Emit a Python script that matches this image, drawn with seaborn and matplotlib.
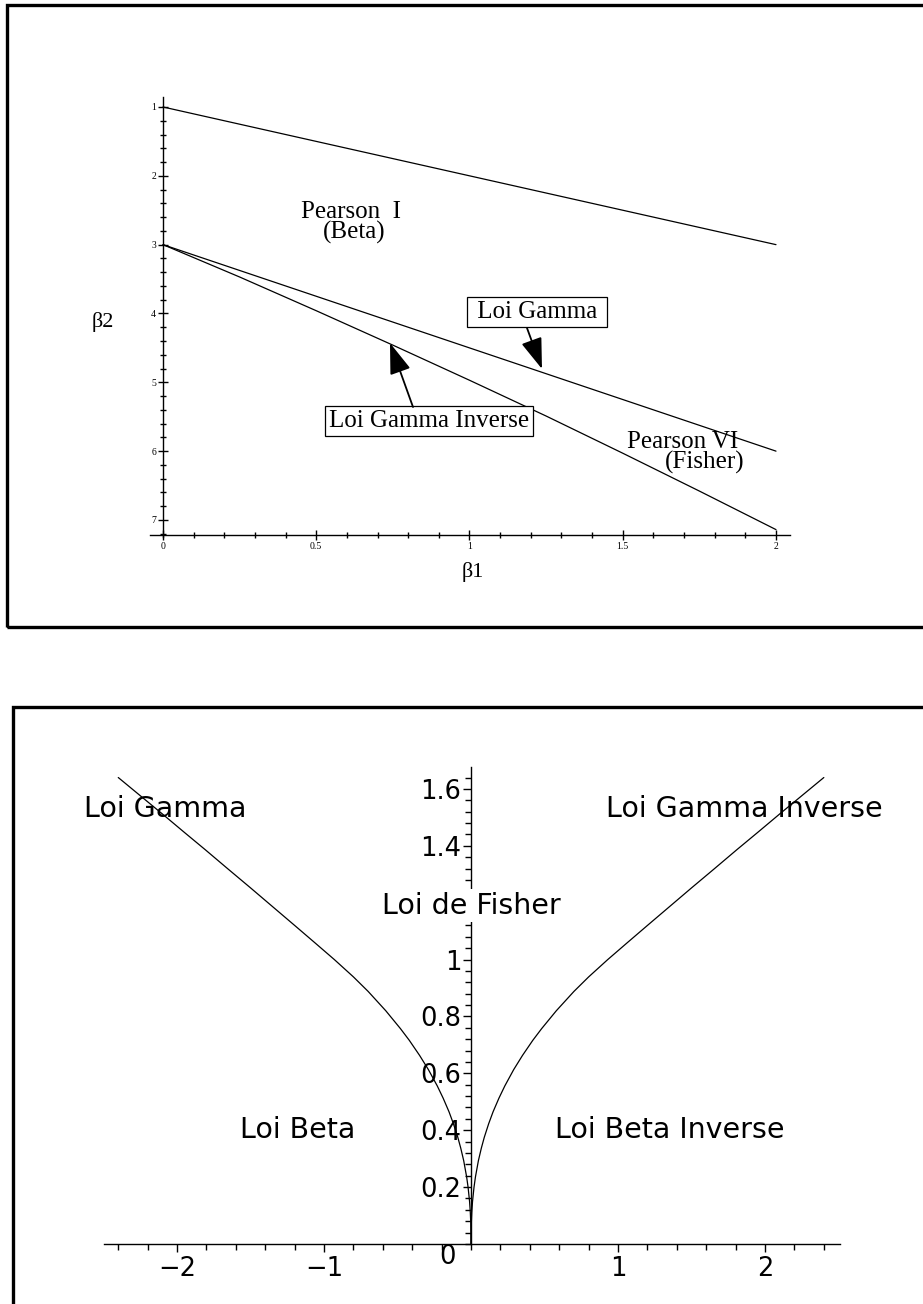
import numpy as np
import pandas as pd
import matplotlib
matplotlib.use("Agg")
import matplotlib.pyplot as plt
import seaborn as sns
from matplotlib.patches import Rectangle
from matplotlib.ticker import MultipleLocator

# ---------------- data: top panel (Pearson diagram) ----------------
beta1_limit = [0.0, 2.0]
beta2_limit = [1.0, 3.0]
beta1_gamma = [0.0, 2.0]
beta2_gamma = [3.0, 6.0]
beta1_invgamma = [0.0, 0.25, 0.5, 0.75, 1.0, 1.25, 1.5, 1.75, 2.0]
beta2_invgamma = [3.0, 3.47, 3.96, 4.46, 4.97, 5.49, 6.03, 6.58, 7.14]
top_xticks = [0, 0.5, 1, 1.5, 2]
top_xticklabels = ["0", "0.5", "1", "1.5", "2"]
top_yticks = [1, 2, 3, 4, 5, 6, 7]
top_yticklabels = ["1", "2", "3", "4", "5", "6", "7"]

# ---------------- data: bottom panel ----------------
invgamma_x = [0.0, 0.002, 0.005, 0.01, 0.02, 0.03, 0.05, 0.07, 0.09, 0.12,
              0.15, 0.19, 0.23, 0.29, 0.35, 0.42, 0.48, 0.58, 0.7, 0.8, 0.93,
              1.06, 1.2, 1.35, 1.5, 1.65, 1.81, 1.95, 2.1, 2.25, 2.4]
invgamma_y = [0.0, 0.076, 0.111, 0.149, 0.199, 0.236, 0.293, 0.337, 0.375,
              0.423, 0.465, 0.513, 0.556, 0.613, 0.663, 0.716, 0.757, 0.82,
              0.888, 0.939, 1.0, 1.058, 1.12, 1.186, 1.252, 1.317, 1.387,
              1.447, 1.512, 1.576, 1.64]
gamma_x = [-0.0, -0.002, -0.005, -0.01, -0.02, -0.03, -0.05, -0.07, -0.09,
           -0.12, -0.15, -0.19, -0.23, -0.29, -0.35, -0.42, -0.48, -0.58,
           -0.7, -0.8, -0.93, -1.06, -1.2, -1.35, -1.5, -1.65, -1.81, -1.95,
           -2.1, -2.25, -2.4]
gamma_y = [0.0, 0.076, 0.111, 0.149, 0.199, 0.236, 0.293, 0.337, 0.375,
           0.423, 0.465, 0.513, 0.556, 0.613, 0.663, 0.716, 0.757, 0.82,
           0.888, 0.939, 1.0, 1.058, 1.12, 1.186, 1.252, 1.317, 1.387,
           1.447, 1.512, 1.576, 1.64]
bot_xticks = [-2, -1, 1, 2]
bot_xticklabels = ["\u22122", "\u22121", "1", "2"]
bot_yticks = [0.2, 0.4, 0.6, 0.8, 1.0, 1.4, 1.6]
bot_yticklabels = ["0.2", "0.4", "0.6", "0.8", "1", "1.4", "1.6"]

sns.set_theme(style="white")
plt.rcParams["font.family"] = ["Liberation Serif", "DejaVu Serif"]

W, H = 923, 1304
fig = plt.figure(figsize=(W / 100, H / 100), dpi=100)
fig.patch.set_facecolor("white")


def fx(px):
    return px / W


def fy(py):
    return 1 - py / H


# frames
fig.patches.append(Rectangle((fx(7), fy(627)), fx(940 - 7), fy(5) - fy(627),
                             transform=fig.transFigure, fill=False,
                             edgecolor="black", linewidth=2.4, zorder=0))
fig.patches.append(Rectangle((fx(13), fy(1330)), fx(950 - 13), fy(707) - fy(1330),
                             transform=fig.transFigure, fill=False,
                             edgecolor="black", linewidth=2.4, zorder=0))

# ================= top panel =================
ax1 = fig.add_axes([fx(150), fy(540), fx(790 - 150), fy(97) - fy(540)])
ax1.set_facecolor("none")
lw = 0.9
sns.lineplot(x=beta1_limit, y=beta2_limit, ax=ax1, color="black", lw=lw,
             sort=False, estimator=None)
sns.lineplot(x=beta1_gamma, y=beta2_gamma, ax=ax1, color="black", lw=lw,
             sort=False, estimator=None)
sns.lineplot(x=beta1_invgamma, y=beta2_invgamma, ax=ax1, color="black", lw=lw,
             sort=False, estimator=None)
ax1.set_xlim(-0.0424, 2.0457)
ax1.set_ylim(7.291, 0.855)
for s in ["top", "right"]:
    ax1.spines[s].set_visible(False)
ax1.spines["left"].set_position(("data", 0))
ax1.spines["bottom"].set_position(("data", 7.218))
ax1.spines["left"].set_bounds(7.25, 0.855)
for s in ["left", "bottom"]:
    ax1.spines[s].set_color("black")
    ax1.spines[s].set_linewidth(1.0)
ax1.set_xticks(top_xticks)
ax1.set_xticklabels(top_xticklabels)
ax1.set_yticks(top_yticks)
ax1.set_yticklabels(top_yticklabels)
ax1.xaxis.set_minor_locator(MultipleLocator(0.1))
ax1.yaxis.set_minor_locator(MultipleLocator(0.2))
ax1.tick_params(which="major", direction="inout", length=7, width=1.0,
                color="black", labelsize=7, pad=1.5, labelcolor="black")
ax1.tick_params(which="minor", direction="inout", length=4.3, width=1.0,
                color="black")
ax1.tick_params(axis="x", which="both", bottom=True)
ax1.tick_params(axis="y", which="both", left=True)
ax1.set_xlabel("")
ax1.set_ylabel("")

tf = dict(family=["Liberation Serif", "DejaVu Serif"], color="black")
ax1.text(0.450, 2.525, "Pearson  I", fontsize=18, ha="left", va="center", **tf)
ax1.text(0.522, 2.816, "(Beta)", fontsize=18, ha="left", va="center", **tf)
ax1.text(1.514, 5.867, "Pearson VI", fontsize=18, ha="left", va="center", **tf)
ax1.text(1.638, 6.158, "(Fisher)", fontsize=18, ha="left", va="center", **tf)
ax1.text(-0.196, 4.124, "\u03b22", fontsize=16, ha="center", va="center", **tf)
ax1.text(1.011, 7.756, "\u03b21", fontsize=16, ha="center", va="center", **tf)

ax1.text(1.220, 3.978, " Loi Gamma ", fontsize=18, ha="center", va="center",
         bbox=dict(boxstyle="square,pad=0.15", fc="white", ec="black", lw=0.9),
         **tf)
ax1.text(0.868, 5.562, "Loi Gamma Inverse", fontsize=18, ha="center",
         va="center",
         bbox=dict(boxstyle="square,pad=0.15", fc="white", ec="black", lw=0.9),
         **tf)
arrow = dict(arrowstyle="-|>,head_length=1.6,head_width=0.55", color="black",
             lw=1.3, shrinkA=0, shrinkB=0)
ax1.annotate("", xy=(1.2365, 4.806), xytext=(1.1876, 4.211), arrowprops=arrow)
ax1.annotate("", xy=(0.7406, 4.429), xytext=(0.8157, 5.359), arrowprops=arrow)

# ================= bottom panel =================
ax2 = fig.add_axes([fx(104), fy(1244), fx(840 - 104), fy(767) - fy(1244)])
ax2.set_facecolor("none")
sns.lineplot(x=gamma_x, y=gamma_y, ax=ax2, color="black", lw=0.9,
             sort=False, estimator=None)
sns.lineplot(x=invgamma_x, y=invgamma_y, ax=ax2, color="black", lw=0.9,
             sort=False, estimator=None)
ax2.set_xlim(-2.497, 2.51)
ax2.set_ylim(0, 1.677)
for s in ["top", "right"]:
    ax2.spines[s].set_visible(False)
ax2.spines["left"].set_position(("data", 0))
for s in ["left", "bottom"]:
    ax2.spines[s].set_color("black")
    ax2.spines[s].set_linewidth(1.0)
ax2.set_xticks(bot_xticks)
ax2.set_xticklabels(bot_xticklabels)
ax2.set_yticks(bot_yticks)
ax2.set_yticklabels(bot_yticklabels)
ax2.xaxis.set_minor_locator(MultipleLocator(0.2))
ax2.yaxis.set_minor_locator(MultipleLocator(0.04))
sf = ["DejaVu Sans"]
ax2.tick_params(which="major", direction="out", length=6, width=1.0,
                color="black", labelsize=18.5, pad=3, labelcolor="black")
ax2.tick_params(which="minor", direction="out", length=4, width=1.0,
                color="black")
ax2.tick_params(axis="x", which="both", bottom=True)
ax2.tick_params(axis="y", which="both", left=True, pad=1)
for lab in ax2.get_xticklabels() + ax2.get_yticklabels():
    lab.set_family(sf)
ax2.set_xlabel("")
ax2.set_ylabel("")

bf = dict(family=sf, color="black", fontsize=20.5, ha="center", va="center")
ax2.text(-0.163, -0.046, "0", family=sf, color="black", fontsize=18.5,
         ha="center", va="center", clip_on=False)
ax2.text(-2.08, 1.53, "Loi Gamma", **bf)
ax2.text(1.86, 1.53, "Loi Gamma Inverse", **bf)
ax2.text(0.0, 1.19, "Loi de Fisher",
         bbox=dict(boxstyle="square,pad=0.1", fc="white", ec="none"),
         zorder=5, **bf)
ax2.text(-1.18, 0.40, "Loi Beta", **bf)
ax2.text(1.35, 0.40, "Loi Beta Inverse", **bf)

fig.savefig("out.png", dpi=100, facecolor="white")
